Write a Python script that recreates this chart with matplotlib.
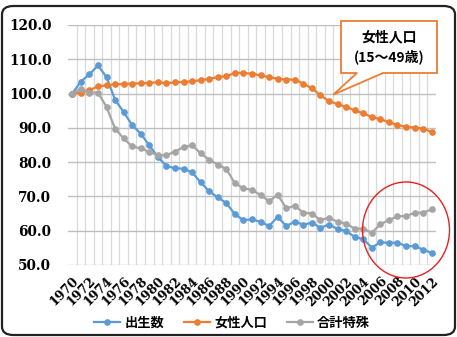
import matplotlib
matplotlib.use("Agg")
import matplotlib.pyplot as plt
from matplotlib.patches import FancyBboxPatch, Ellipse, Polygon
from matplotlib.ticker import FixedLocator, FormatStrFormatter

#### Data (index, 1970 = 100)

YEARS = list(range(1970, 2013))
BIRTHS = [100.0, 103.5, 105.6, 108.2, 104.8, 98.2, 94.6, 90.8, 88.3, 84.9,
          81.5, 78.9, 78.2, 78.1, 77.0, 74.1, 71.5, 69.7, 68.1, 64.8,
          63.1, 63.3, 62.6, 61.4, 64.0, 61.4, 62.6, 61.8, 62.3, 60.9,
          61.8, 60.5, 59.9, 58.2, 57.5, 55.1, 56.6, 56.5, 56.5, 55.5,
          55.5, 54.5, 53.5]
WOMEN = [100.0, 100.3, 101.0, 102.1, 102.4, 102.7, 102.8, 102.9, 103.0, 103.1,
         103.3, 103.0, 103.3, 103.4, 103.6, 103.9, 104.3, 104.8, 105.1, 106.0,
         106.0, 105.8, 105.3, 104.8, 104.3, 104.1, 104.1, 102.9, 101.5, 99.5,
         97.8, 96.9, 96.1, 95.1, 94.2, 93.2, 92.5, 91.7, 90.8, 90.3,
         90.1, 89.8, 88.8]
TFR = [100.0, 101.4, 100.3, 100.3, 96.1, 89.8, 86.9, 84.6, 84.0, 83.0,
       82.0, 82.0, 83.1, 84.4, 84.9, 82.6, 80.7, 79.3, 78.0, 73.8,
       72.4, 71.9, 70.4, 68.6, 70.5, 66.6, 67.2, 65.3, 65.0, 63.1,
       63.8, 62.6, 62.1, 60.6, 60.6, 59.4, 61.9, 63.1, 64.2, 64.3,
       65.2, 65.3, 66.2]
SERIES_NAMES = ["出生数", "女性人口", "合計特殊"]
CALLOUT_TEXT = "女性人口\n(15～49歳)"
Y_TICKS = [50, 60, 70, 80, 90, 100, 110, 120]

COLORS = ["#5B9BD5", "#ED7D31", "#A5A5A5"]
CJK = ["Noto Sans CJK JP", "DejaVu Sans"]

W, H = 457, 337

plt.rcParams["font.family"] = ["DejaVu Serif"]
plt.rcParams["font.weight"] = "bold"


def fig_frac(px, py):
    """Image pixel (top-left origin) to figure fraction."""
    return px / W, 1 - py / H


def main():
    fig = plt.figure(figsize=(W / 100, H / 100), dpi=100)
    ax = fig.add_axes([68 / W, 1 - 265 / H, (436 - 68) / W, (265 - 25) / H])

    x = list(range(len(YEARS)))
    for vals, name, col in zip([BIRTHS, WOMEN, TFR], SERIES_NAMES, COLORS):
        ax.plot(x, vals, color=col, lw=1.6, marker="o", ms=3.8,
                label=name, zorder=3)

    ax.set_xlim(-0.5, len(YEARS) - 0.5)
    ax.set_ylim(50, 120)

    # grid
    ax.yaxis.set_major_locator(FixedLocator(Y_TICKS))
    ax.yaxis.set_major_formatter(FormatStrFormatter("%.1f"))
    ax.grid(axis="y", color="#bfbfbf", lw=1.0)
    for b in [i + 0.5 for i in x[:-1]]:
        ax.axvline(b, color="#d9d9d9", lw=0.9, zorder=0)
    ax.tick_params(axis="x", which="major", length=0, pad=7, labelsize=9)
    ax.tick_params(axis="y", length=0, pad=12, labelsize=9.8)
    for s in ax.spines.values():
        s.set_visible(False)

    ax.set_xticks(x[::2])
    ax.set_xticklabels([str(y) for y in YEARS[::2]], rotation=45, ha="right",
                       va="top", rotation_mode="anchor")

    fig.legend(loc="center", bbox_to_anchor=(232 / W, 1 - 323 / H), ncol=3,
               frameon=False, handlelength=2.0, columnspacing=1.5,
               handletextpad=0.3, prop={"family": CJK, "weight": "bold", "size": 9.5})

    # callout box pointing at the female population line
    fig.canvas.draw()
    tip_disp = ax.transData.transform((30.5, 99.7))
    tip = fig.transFigure.inverted().transform(tip_disp)
    pts = [fig_frac(341, 21), fig_frac(437, 21), fig_frac(437, 73),
           fig_frac(383, 73), tuple(tip), fig_frac(357, 73), fig_frac(341, 73)]
    fig.patches.append(Polygon(pts, closed=True, transform=fig.transFigure,
                               fc="white", ec="#ED7D31", lw=1.3, zorder=5))
    cx, cy = fig_frac(389, 47)
    fig.text(cx, cy, CALLOUT_TEXT, ha="center", va="center", family=CJK,
             fontweight="bold", fontsize=10, linespacing=1.4, zorder=6)

    # red circle highlighting the recent years
    ecx, ecy = fig_frac(406, 230)
    fig.patches.append(Ellipse((ecx, ecy), 87 / W, 96 / H, transform=fig.transFigure,
                               fill=False, ec="#E8201E", lw=1.0, zorder=6))

    # rounded frame around the whole chart
    fig.patches.append(FancyBboxPatch((2 / W, 2 / H), 453 / W, 329 / H,
                                      boxstyle="round,pad=0,rounding_size=0.025",
                                      transform=fig.transFigure, fill=False,
                                      ec="#222222", lw=1.6))

    fig.savefig("out.png", dpi=100)


if __name__ == "__main__":
    main()
